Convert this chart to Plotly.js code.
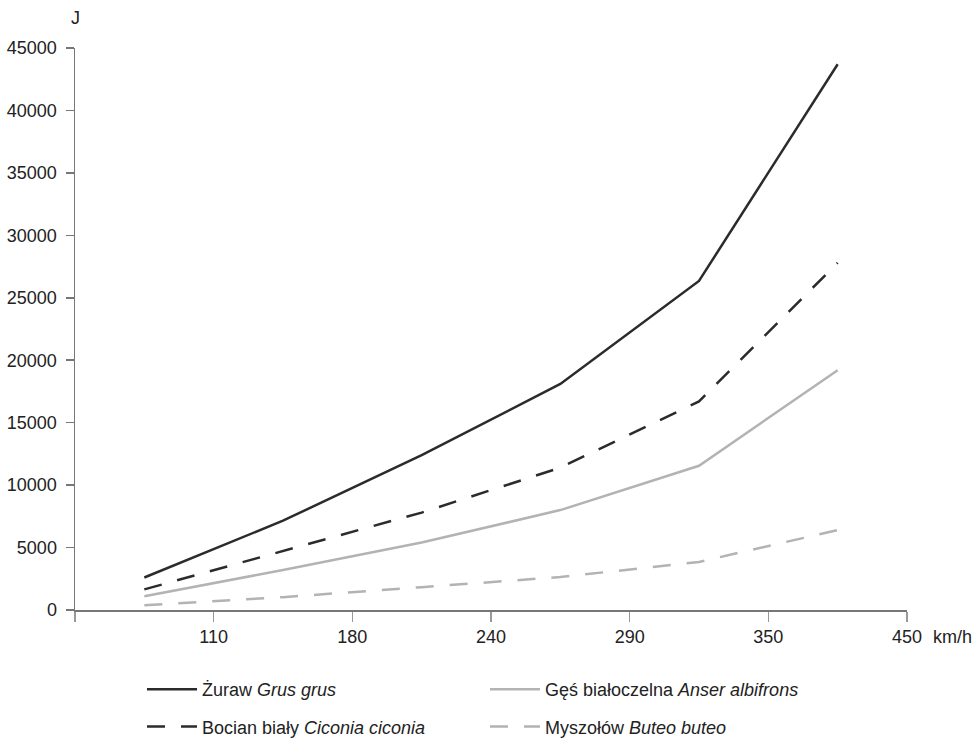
<!DOCTYPE html>
<html>
<head>
<meta charset="utf-8">
<script src="https://cdn.plot.ly/plotly-3.0.1.min.js"></script>
<style>html,body{margin:0;padding:0;background:#fff;}#chart{width:975px;height:739px;}</style>
</head>
<body>
<div id="chart"></div>
<script>
// Speed categories (km/h) shown on the x axis
var speeds = ["110", "180", "240", "290", "350", "450"];
// Energy values (J) per species
var zuraw    = [2600, 7150, 12400, 18100, 26350, 43700];
var bocian   = [1650, 4700, 7800, 11400, 16700, 27800];
var ges      = [1100, 3200, 5400, 8000, 11550, 19200];
var myszolow = [380, 1030, 1830, 2640, 3850, 6400];
var names = [
  "Żuraw <i>Grus grus</i>",
  "Bocian biały <i>Ciconia ciconia</i>",
  "Gęś białoczelna <i>Anser albifrons</i>",
  "Myszołów <i>Buteo buteo</i>"
];

var xs = speeds.map(function (s, i) { return i + 0.5; });
var dark = "#2b2b2b", light = "#b3b3b3";
var dashPat = "18px,16px";

function tr(y, name, color, dash, legend, grp) {
  return {
    x: xs, y: y, name: name, type: "scatter", mode: "lines",
    line: {color: color, width: 2.5, dash: dash},
    legend: legend, legendgroup: grp
  };
}

var data = [
  tr(zuraw, names[0], dark, "solid", "legend", "a"),
  tr(bocian, names[1], dark, dashPat, "legend", "b"),
  tr(ges, names[2], light, "solid", "legend2", "c"),
  tr(myszolow, names[3], light, dashPat, "legend2", "d")
];

var tickv = [0].concat(speeds.map(function (s, i) { return i + 1; }));
var tickt = [""].concat(speeds);

var fontFam = "Liberation Sans, Arial, sans-serif";
var legendBase = {
  xref: "container", yref: "container", xanchor: "left", yanchor: "top",
  font: {family: fontFam, size: 18, color: "#222"},
  tracegroupgap: 11, traceorder: "grouped", bgcolor: "rgba(0,0,0,0)", borderwidth: 0,
  itemwidth: 50
};

var layout = {
  width: 975, height: 739,
  margin: {l: 75, r: 68, t: 48, b: 129, autoexpand: false},
  paper_bgcolor: "#fff", plot_bgcolor: "#fff",
  font: {family: fontFam, size: 18, color: "#222"},
  showlegend: true,
  xaxis: {
    range: [0, 6], tickvals: tickv, ticktext: tickt, tickangle: 0,
    showgrid: false, zeroline: false, showline: true,
    linecolor: "#777", linewidth: 1.5,
    ticks: "outside", ticklen: 10, tickwidth: 1.5, tickcolor: "#999",
    ticklabelstandoff: 0,
    tickfont: {size: 18, color: "#222"}
  },
  yaxis: {
    range: [0, 45000], dtick: 5000, tickformat: "d",
    showgrid: false, zeroline: false, showline: true,
    linecolor: "#777", linewidth: 1.5,
    ticks: "outside", ticklen: 8, tickwidth: 1.5, tickcolor: "#777",
    ticklabelstandoff: 5,
    tickfont: {size: 18, color: "#222"}
  },
  legend: Object.assign({}, legendBase, {x: 142 / 975, y: 1 - 671 / 739}),
  legend2: Object.assign({}, legendBase, {x: 485 / 975, y: 1 - 671 / 739}),
  annotations: [
    {text: "J", xref: "paper", yref: "paper", x: 0, y: 1, xanchor: "center", yanchor: "bottom",
     yshift: 18, showarrow: false, font: {size: 18, color: "#222"}},
    {text: "km/h", xref: "paper", yref: "paper", x: 1, y: 0, xanchor: "left", yanchor: "middle",
     xshift: 24, yshift: -27, showarrow: false, font: {size: 18, color: "#222"}}
  ]
};

Plotly.newPlot("chart", data, layout, {displayModeBar: false, staticPlot: true});
</script>
</body>
</html>
